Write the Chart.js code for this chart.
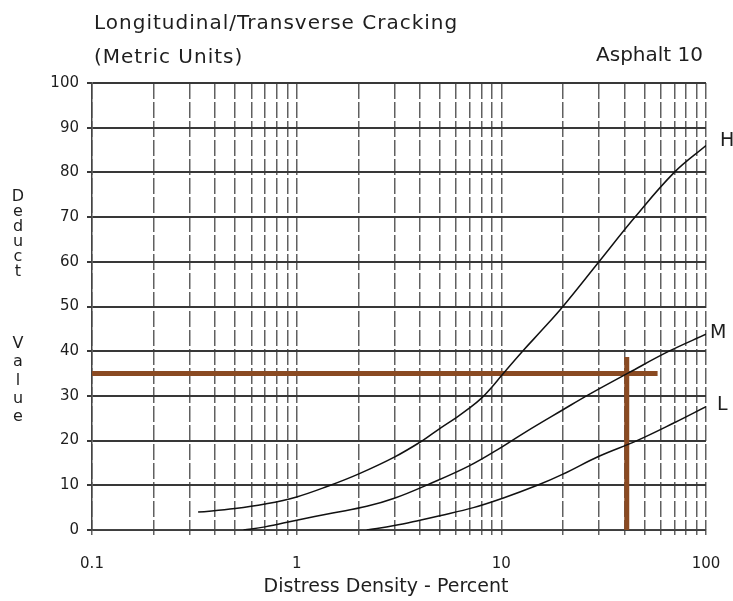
<!DOCTYPE html>
<html>
<head>
    <title>Longitudinal/Transverse Cracking</title>
    <script src="https://cdn.jsdelivr.net/npm/chart.js"></script>
    <style>
        body { margin: 0; background: #fff; }
        #wrap { width: 733px; height: 601px; }
    </style>
</head>
<body>
    <div id="wrap"><canvas id="deductChart"></canvas></div>
    <script>
        // vertical grid lines (log scale) and the few that get a label
        const gridX = [0.1, 0.2, 0.3, 0.4, 0.5, 0.6, 0.7, 0.8, 0.9,
                       1, 2, 3, 4, 5, 6, 7, 8, 9,
                       10, 20, 30, 40, 50, 60, 70, 80, 90, 100];
        const xLabels = [0.1, 1, 10, 100];

        // curves: [density %, deduct value]
        const highCurve = [[0.33, 4], [0.5, 4.8], [0.7, 5.8], [1, 7.4], [1.44, 9.9], [2, 12.5],
                           [3, 16.3], [4.12, 20], [5, 22.7], [6, 25.1], [7, 27.3], [8, 29.5],
                           [9, 32], [10, 34.5], [12.7, 40], [16, 45], [20, 50],
                           [30, 60], [45, 70], [70, 80], [100, 86]];
        const mediumCurve = [[0.55, 0], [0.7, 0.7], [1, 2.2], [1.5, 3.8], [2.2, 5.3], [3, 7.1],
                             [4.4, 10.2], [7, 14.4], [10, 18.5], [13, 21.8], [20, 26.9], [27, 30.4],
                             [42, 35.2], [66, 40], [100, 43.8]];
        const lowCurve = [[2.2, 0], [3, 1], [4, 2.2], [5, 3.2], [7.3, 5], [10, 7], [15, 10],
                          [20, 12.5], [30, 16.5], [46, 20], [70, 24], [100, 27.6]];

        // brown reading lines
        const readLineH = [[0.1, 35], [58, 35]];
        const readLineV = [[41, 0], [41, 38.7]];

        const titleText = 'Longitudinal/Transverse Cracking';
        const subTitle = '(Metric Units)';
        const chartCode = 'Asphalt 10';
        const xTitle = 'Distress Density - Percent';
        const yTitleWords = ['Deduct', 'Value'];

        const toXY = arr => arr.map(p => ({x: p[0], y: p[1]}));

        const textPlugin = {
            id: 'chartText',
            afterDraw(chart) {
                const ctx = chart.ctx;
                ctx.save();
                ctx.fillStyle = '#1e1e1e';
                ctx.textBaseline = 'alphabetic';
                ctx.font = '20px "DejaVu Sans"';
                ctx.textAlign = 'left';
                ctx.letterSpacing = '1px';
                ctx.fillText(titleText, 94, 29);
                ctx.fillText(subTitle, 94, 63);
                ctx.letterSpacing = '0px';
                ctx.textAlign = 'right';
                ctx.fillText(chartCode, 703, 61);

                // x axis title
                ctx.font = '19px "DejaVu Sans"';
                ctx.textAlign = 'center';
                ctx.fillText(xTitle, 386, 592);

                // stacked letters for the y title
                ctx.font = '16px "DejaVu Sans"';
                ctx.textBaseline = 'middle';
                yTitleWords[0].split('').forEach((c, i) => ctx.fillText(c, 18, 197 + i * 15));
                yTitleWords[1].split('').forEach((c, i) => ctx.fillText(c, 18, 344 + i * 18.3));

                // H / M / L at the end of each curve
                ctx.font = '19px "DejaVu Sans"';
                ctx.textAlign = 'left';
                chart.data.datasets.forEach((ds, i) => {
                    if (!ds.endLabel) return;
                    const pts = chart.getDatasetMeta(i).data;
                    const p = pts[pts.length - 1];
                    ctx.fillText(ds.endLabel, p.x + ds.labelDx, p.y + ds.labelDy);
                });
                ctx.restore();
            }
        };

        const curveStyle = {
            borderColor: '#111',
            borderWidth: 1.5,
            pointRadius: 0,
            tension: 0.4,
            fill: false
        };
        const brownStyle = {
            borderColor: '#8a4a22',
            borderWidth: 5,
            pointRadius: 0,
            borderCapStyle: 'butt',
            fill: false,
            clip: false
        };

        new Chart(document.getElementById('deductChart'), {
            type: 'line',
            data: {
                datasets: [
                    Object.assign({label: 'H', data: toXY(highCurve), endLabel: 'H', labelDx: 14, labelDy: -5}, curveStyle),
                    Object.assign({label: 'M', data: toXY(mediumCurve), endLabel: 'M', labelDx: 4, labelDy: -1}, curveStyle),
                    Object.assign({label: 'L', data: toXY(lowCurve), endLabel: 'L', labelDx: 11, labelDy: -2}, curveStyle),
                    Object.assign({label: 'reading', data: toXY(readLineH)}, brownStyle),
                    Object.assign({label: 'reading2', data: toXY(readLineV)}, brownStyle)
                ]
            },
            options: {
                responsive: true,
                maintainAspectRatio: false,
                animation: false,
                layout: { padding: { top: 83, right: 27, bottom: 5, left: 0 } },
                plugins: {
                    legend: { display: false },
                    tooltip: { enabled: false }
                },
                scales: {
                    x: {
                        type: 'logarithmic',
                        min: 0.1,
                        max: 100,
                        afterBuildTicks: axis => {
                            axis.ticks = gridX.map(v => ({value: v, major: xLabels.includes(v)}));
                        },
                        afterFit: axis => {
                            axis.height = 66;
                            axis.paddingLeft = 0;
                            axis.paddingRight = 0;
                        },
                        ticks: {
                            autoSkip: false,
                            maxRotation: 0,
                            padding: 20,
                            color: '#1e1e1e',
                            font: { family: 'DejaVu Sans', size: 15 },
                            callback: v => xLabels.includes(v) ? String(v) : ''
                        },
                        grid: { color: '#606060', lineWidth: 1.5, tickLength: 5 },
                        border: { color: '#444', width: 1.5, dash: [16, 3] }
                    },
                    y: {
                        type: 'linear',
                        min: 0,
                        max: 100,
                        afterFit: axis => { axis.width = 92; },
                        ticks: {
                            stepSize: 10,
                            padding: 8,
                            color: '#1e1e1e',
                            font: { family: 'DejaVu Sans', size: 15 }
                        },
                        grid: { color: '#383838', lineWidth: 2, tickLength: 5 },
                        border: { color: '#444', width: 1.5 }
                    }
                }
            },
            plugins: [textPlugin]
        });
    </script>
</body>
</html>
